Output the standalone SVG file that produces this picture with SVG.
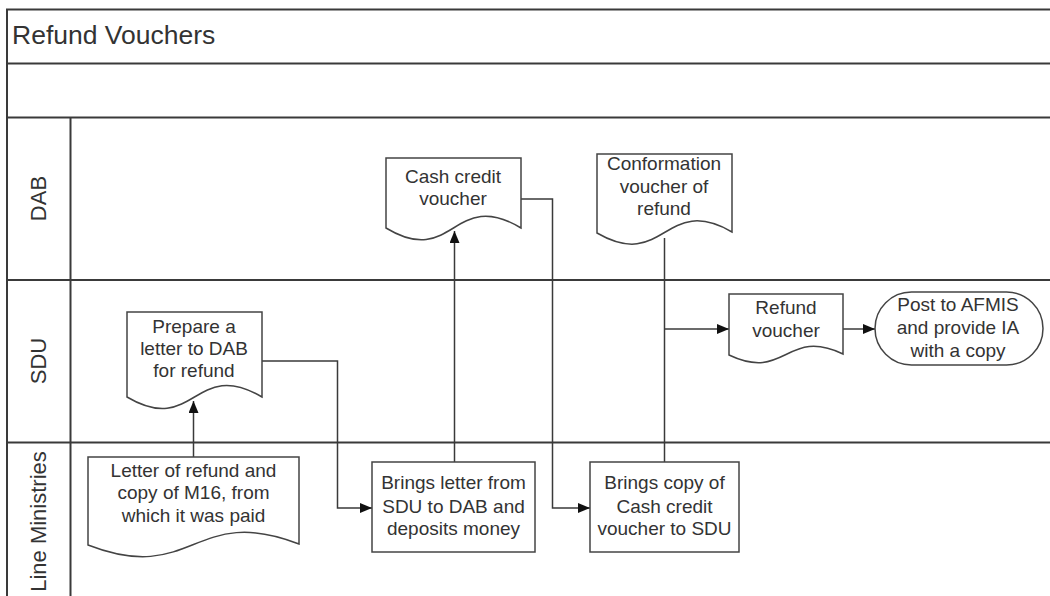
<svg xmlns="http://www.w3.org/2000/svg" width="1050" height="596" viewBox="0 0 1050 596">
  <style>
    .frame { fill: none; stroke: #3a3a3a; stroke-width: 2; }
    .shape { fill: #ffffff; stroke: #444444; stroke-width: 1.5; }
    .conn { fill: none; stroke: #3a3a3a; stroke-width: 1.5; }
    .txt { font-family: "Liberation Sans", Arial, sans-serif; font-size: 19px; fill: #333333; text-anchor: middle; }
    .lane { font-family: "Liberation Sans", Arial, sans-serif; font-size: 22px; fill: #333333; text-anchor: middle; }
    .title { font-family: "Liberation Sans", Arial, sans-serif; font-size: 26.5px; fill: #333333; }
  </style>
  <defs>
    <marker id="arrow" viewBox="0 0 12 10" refX="12" refY="5" markerWidth="12" markerHeight="10" markerUnits="userSpaceOnUse" orient="auto">
      <path d="M0,0 L12,5 L0,10 Z" fill="#111111"/>
    </marker>
  </defs>

  <rect width="1050" height="596" fill="#ffffff"/>

  <!-- pool frame, title band and swimlanes -->
  <g id="pool">
    <path class="frame" d="M1050,9.5 H7 V596"/>
    <line class="frame" x1="7" y1="63.5" x2="1050" y2="63.5"/>
    <line class="frame" x1="7" y1="117.5" x2="1050" y2="117.5"/>
    <line class="frame" x1="7" y1="280" x2="1050" y2="280"/>
    <line class="frame" x1="7" y1="442.5" x2="1050" y2="442.5"/>
    <line class="frame" x1="70.5" y1="117.5" x2="70.5" y2="596"/>
    <text class="title" x="12" y="44">Refund Vouchers</text>
  </g>
  <g id="lane-dab"><text class="lane" transform="translate(46,198.5) rotate(-90)">DAB</text></g>
  <g id="lane-sdu"><text class="lane" transform="translate(46,361) rotate(-90)">SDU</text></g>
  <g id="lane-line-ministries"><text class="lane" transform="translate(46,521.5) rotate(-90)">Line Ministries</text></g>

  <!-- connectors -->
  <g id="connectors">
    <path class="conn" d="M193.5,457 V401" marker-end="url(#arrow)"/>
    <path class="conn" d="M262,361 H337.5 V508 H372" marker-end="url(#arrow)"/>
    <path class="conn" d="M454.5,462 V231" marker-end="url(#arrow)"/>
    <path class="conn" d="M521,199 H552.5 V508 H590" marker-end="url(#arrow)"/>
    <path class="conn" d="M664.5,462 V238"/>
    <path class="conn" d="M664.5,329 H729" marker-end="url(#arrow)"/>
    <path class="conn" d="M843,329 H875" marker-end="url(#arrow)"/>
  </g>

  <!-- documents and process steps -->
  <g id="doc-cash-credit">
    <path class="shape" d="M386,158 H521 V228 C453.5,187 453.5,269 386,228 Z"/>
    <text class="txt" x="453" y="183">Cash credit</text>
    <text class="txt" x="453" y="205">voucher</text>
  </g>
  <g id="doc-conformation">
    <path class="shape" d="M597,154 H732 V232 C664.5,193 664.5,272 597,233 Z"/>
    <text class="txt" x="664" y="170">Conformation</text>
    <text class="txt" x="664" y="193">voucher of</text>
    <text class="txt" x="664" y="215">refund</text>
  </g>
  <g id="doc-prepare-letter">
    <path class="shape" d="M127,312 H262 V397 C194.5,357 194.5,437 127,397 Z"/>
    <text class="txt" x="194" y="333">Prepare a</text>
    <text class="txt" x="194" y="355">letter to DAB</text>
    <text class="txt" x="194" y="377">for refund</text>
  </g>
  <g id="doc-refund-voucher">
    <path class="shape" d="M729,294 H843 V354 C786,327 786,382 729,355 Z"/>
    <text class="txt" x="786" y="314">Refund</text>
    <text class="txt" x="786" y="337">voucher</text>
  </g>
  <g id="end-post-afmis">
    <rect class="shape" x="875" y="292" width="168" height="73" rx="36.5" ry="36.5"/>
    <text class="txt" x="958" y="311">Post to AFMIS</text>
    <text class="txt" x="958" y="334">and provide IA</text>
    <text class="txt" x="958" y="357">with a copy</text>
  </g>
  <g id="doc-letter-refund">
    <path class="shape" d="M88,457 H299 V544 C193.5,503 193.5,586 88,545 Z"/>
    <text class="txt" x="193.5" y="477">Letter of refund and</text>
    <text class="txt" x="193.5" y="499">copy of M16, from</text>
    <text class="txt" x="193.5" y="522">which it was paid</text>
  </g>
  <g id="step-brings-letter">
    <rect class="shape" x="372" y="462" width="163" height="90"/>
    <text class="txt" x="453.5" y="489">Brings letter from</text>
    <text class="txt" x="453.5" y="513">SDU to DAB and</text>
    <text class="txt" x="453.5" y="535">deposits money</text>
  </g>
  <g id="step-brings-copy">
    <rect class="shape" x="590" y="462" width="149" height="90"/>
    <text class="txt" x="664.5" y="489">Brings copy of</text>
    <text class="txt" x="664.5" y="513">Cash credit</text>
    <text class="txt" x="664.5" y="535">voucher to SDU</text>
  </g>
</svg>
